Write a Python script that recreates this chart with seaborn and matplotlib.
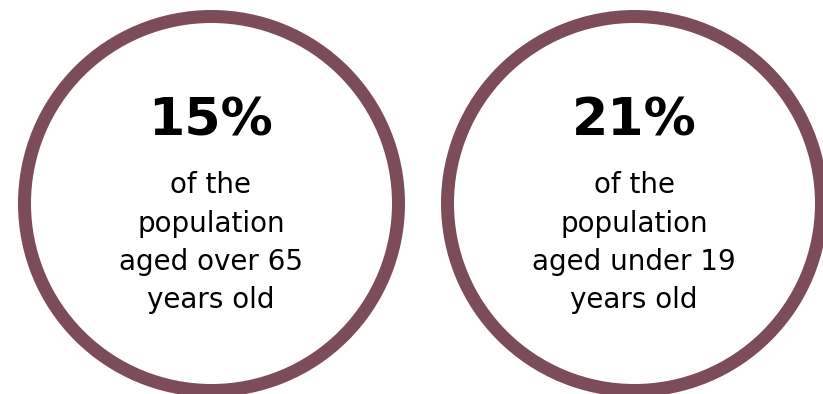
import matplotlib
matplotlib.use("Agg")
import matplotlib.pyplot as plt
import seaborn as sns
import pandas as pd

# ---------------------------------------------------------------------------
# Data
# ---------------------------------------------------------------------------
groups = ["over 65", "under 19"]
percentages = [15, 21]
descriptions = [
    ["of the", "population", "aged over 65", "years old"],
    ["of the", "population", "aged under 19", "years old"],
]

ring_color = "#7c4d58"

sns.set_theme(style="white")
plt.rcParams["font.family"] = ["DejaVu Sans"]

W, H, DPI = 823, 394, 100
fig = plt.figure(figsize=(W / DPI, H / DPI), dpi=DPI)
ax = fig.add_axes([0, 0, 1, 1])

# layout in pixels: category 0 -> x=211, category 1 -> x=634
px_per_cat = 423
left_px = 211
circle_y = 202.5
ring_px = 187       # radius of the ring centre line
ring_width_px = 13

df = pd.DataFrame({"group": groups, "pct": percentages})
df["y"] = circle_y

pt = 72 / DPI
sns.scatterplot(data=df, x="group", y="y", ax=ax, marker="o",
                s=(2 * ring_px * pt) ** 2, color="white",
                edgecolor=ring_color, linewidth=ring_width_px * pt,
                legend=False, zorder=2)

ax.set_xlim(-left_px / px_per_cat, (W - left_px) / px_per_cat)
ax.set_ylim(H, 0)
ax.axis("off")

# text
for i, (pct, lines) in enumerate(zip(percentages, descriptions)):
    ax.text(i, 135, f"{pct}%", ha="center", va="baseline",
            fontsize=37.5, fontweight="bold", color="black", zorder=3)
    for j, line in enumerate(lines):
        ax.text(i, 193 + j * 38.5, line, ha="center", va="baseline",
                fontsize=20, color="black", zorder=3)

fig.savefig("out.png", dpi=DPI)
plt.close(fig)
